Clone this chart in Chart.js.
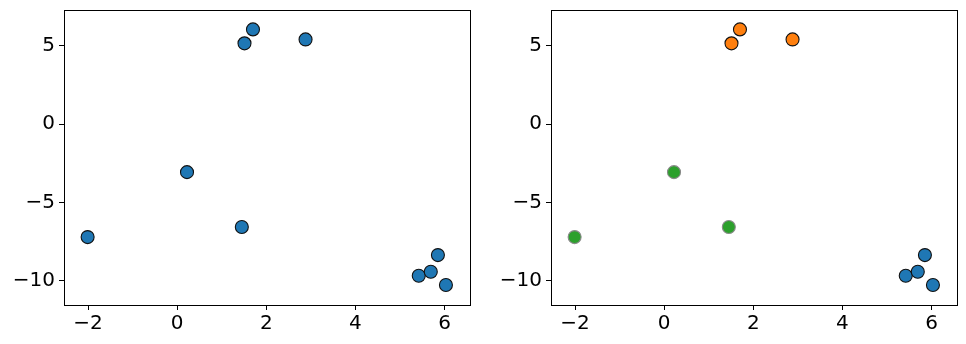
<!DOCTYPE html>
<html>
<head>
<meta charset="utf-8">
<script src="https://cdn.jsdelivr.net/npm/chart.js@4"></script>
<style>
  html, body { margin: 0; padding: 0; background: #fff; }
  #wrap { position: relative; width: 966px; height: 344px; }
  .box { position: absolute; top: 0; height: 344px; width: 483px; }
</style>
</head>
<body>
<div id="wrap">
  <div class="box" style="left:0"><canvas id="gauche"></canvas></div>
  <div class="box" style="left:483px"><canvas id="droite"></canvas></div>
</div>
<script>
// Les points
const xs = [-2.01, 0.22, 1.45, 1.51, 1.70, 2.88, 5.42, 5.69, 5.85, 6.03];
const ys = [-7.21, -3.06, -6.57, 5.17, 6.06, 5.42, -9.68, -9.43, -8.36, -10.27];
// groupe de chaque point pour le graphique de droite (0 = bleu, 1 = orange, 2 = vert)
const groupes = [2, 2, 2, 1, 1, 1, 0, 0, 0, 0];

const xTicks = [-2, 0, 2, 4, 6];
const yTicks = [-10, -5, 0, 5];
const xMin = -2.54, xMax = 6.57;
const yMin = -11.55, yMax = 7.3;

const couleurs = ['#1f77b4', '#ff7f0e', '#2ca02c'];
const bords = ['#111111', '#111111', '#8a8a8a'];

function points(filtre) {
    const out = [];
    for (let i = 0; i < xs.length; i++) {
        if (filtre(i)) out.push({ x: xs[i], y: ys[i] });
    }
    return out;
}

// cadre noir autour de la zone du graphique
const cadre = {
    id: 'cadre',
    afterDraw(chart) {
        const a = chart.chartArea, c = chart.ctx;
        c.save();
        c.strokeStyle = '#000';
        c.lineWidth = 1;
        c.strokeRect(Math.round(a.left) + 0.5, Math.round(a.top) + 0.5,
            Math.round(a.right - a.left), Math.round(a.bottom - a.top));
        c.restore();
    }
};

const moins = v => String(v).replace('-', '\u2212');

function options(largeurY, padDroite) {
    const police = { family: 'DejaVu Sans', size: 20 };
    return {
        responsive: true,
        maintainAspectRatio: false,
        animation: false,
        layout: { padding: { top: 10, right: padDroite, left: 0, bottom: 0 } },
        plugins: { legend: { display: false }, tooltip: { enabled: false } },
        scales: {
            x: {
                type: 'linear', min: xMin, max: xMax,
                afterBuildTicks: s => { s.ticks = xTicks.map(v => ({ value: v })); },
                afterFit: s => { s.height = 39; s.paddingLeft = 0; s.paddingRight = 0; },
                grid: { drawOnChartArea: false, drawTicks: true, tickLength: 5, color: '#000' },
                border: { display: false },
                ticks: { color: '#000', font: police, padding: 2, maxRotation: 0, callback: moins }
            },
            y: {
                type: 'linear', min: yMin, max: yMax,
                afterBuildTicks: s => { s.ticks = yTicks.map(v => ({ value: v })); },
                afterFit: s => { s.width = largeurY; s.paddingTop = 0; s.paddingBottom = 0; },
                grid: { drawOnChartArea: false, drawTicks: true, tickLength: 5, color: '#000' },
                border: { display: false },
                ticks: { color: '#000', font: police, padding: 4, callback: moins }
            }
        }
    };
}

function jeu(data, fond, bord) {
    return {
        data: data,
        backgroundColor: fond,
        borderColor: bord,
        borderWidth: 1.1,
        pointRadius: 6.5,
        pointHoverRadius: 6.5
    };
}

document.addEventListener('DOMContentLoaded', function() {
    new Chart(document.getElementById('gauche').getContext('2d'), {
        type: 'scatter',
        data: { datasets: [jeu(points(() => true), couleurs[0], bords[0])] },
        options: options(64, 13),
        plugins: [cadre]
    });

    new Chart(document.getElementById('droite').getContext('2d'), {
        type: 'scatter',
        data: {
            datasets: [0, 1, 2].map(g =>
                jeu(points(i => groupes[i] === g), couleurs[g], bords[g]))
        },
        options: options(68, 9),
        plugins: [cadre]
    });
});
</script>
</body>
</html>
